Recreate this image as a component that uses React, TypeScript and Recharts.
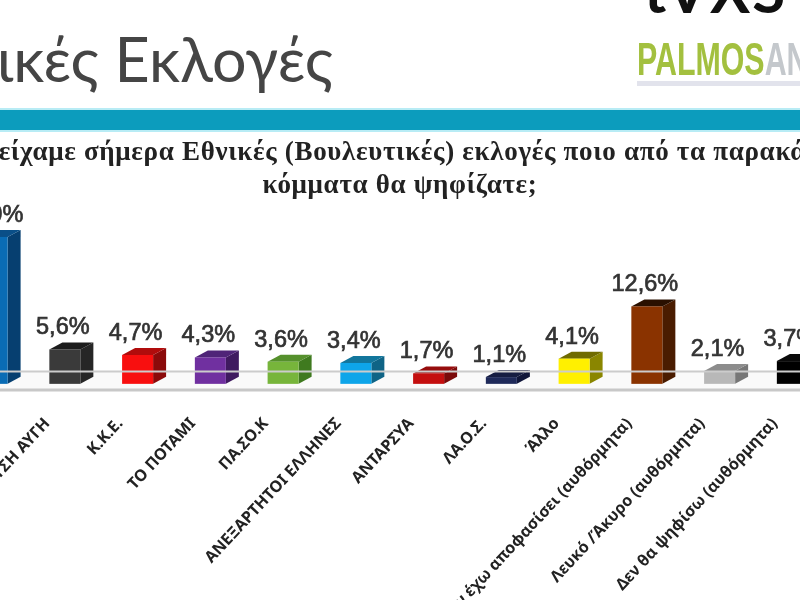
import { BarChart, Bar, XAxis, YAxis, LabelList, ReferenceArea, ReferenceLine } from 'recharts';

const parties = [
  'Ν.Δ.',
  'ΧΡΥΣΗ ΑΥΓΗ',
  'Κ.Κ.Ε.',
  'ΤΟ ΠΟΤΑΜΙ',
  'ΠΑ.ΣΟ.Κ',
  'ΑΝΕΞΑΡΤΗΤΟΙ ΕΛΛΗΝΕΣ',
  'ΑΝΤΑΡΣΥΑ',
  'ΛΑ.Ο.Σ.',
  'Άλλο',
  'Δεν έχω αποφασίσει (αυθόρμητα)',
  'Λευκό /Άκυρο (αυθόρμητα)',
  'Δεν θα ψηφίσω (αυθόρμητα)',
];
const shares = [23.9, 5.6, 4.7, 4.3, 3.6, 3.4, 1.7, 1.1, 4.1, 12.6, 2.1, 3.7];
const frontColors = ['#0a6cb5', '#3a3a3a', '#f80f0f', '#7030a0', '#77b53b', '#0ea5e9', '#c40f0f', '#1f2a5a', '#fff000', '#8a3300', '#b8b8b8', '#000000'];
const sideColors = ['#063f70', '#262626', '#8b0a0a', '#3f1a60', '#3f7a1f', '#0f6486', '#7a0a0a', '#10163a', '#8a8600', '#4a1c00', '#777777', '#111111'];
const topColors = ['#0a4f88', '#1c1c1c', '#b00c0c', '#4f2478', '#55902c', '#12769c', '#960c0c', '#161d42', '#6f6b00', '#2a1000', '#8c8c8c', '#0a0a0a'];

const data = parties.map((name, i) => ({ name, value: shares[i] }));

// fake 3D column: front face + side + top
function Column3D({ x, y, width, height, index }: any) {
  const dx = 13;
  const dy = 7;
  return (
    <g>
      <path d={`M${x + width},${y} l${dx},${-dy} v${height} l${-dx},${dy} z`} fill={sideColors[index]} />
      <path d={`M${x},${y} l${dx},${-dy} h${width} l${-dx},${dy} z`} fill={topColors[index]} />
      <rect x={x} y={y} width={width} height={height} fill={frontColors[index]} />
    </g>
  );
}

function ValueLabel({ x, y, width, value }: any) {
  return (
    <text
      x={x + width / 2 - 2}
      y={y - 15}
      textAnchor="middle"
      fontFamily="Liberation Sans"
      fontSize={23.5}
      fill="#333333"
      stroke="#333333"
      strokeWidth={0.7}
    >
      {String(value).replace('.', ',')}%
    </text>
  );
}

function PartyTick({ x, payload }: any) {
  return (
    <text
      transform={`translate(${x - 14},424) rotate(-47)`}
      textAnchor="end"
      fontFamily="Noto Sans"
      fontWeight={700}
      fontSize={16}
      fill="#222222"
    >
      {payload.value}
    </text>
  );
}

export default function App() {
  return (
    <div style={{ position: 'absolute', left: 0, top: 0, width: 800, height: 600, overflow: 'hidden', background: '#fff', filter: 'blur(0.6px)' }}>
      <div style={{ position: 'absolute', right: 467, top: 22, whiteSpace: 'nowrap', fontFamily: 'Lato', fontSize: 61, color: '#454545' }}>
        Εθνικές Εκλογές
      </div>
      <div style={{ position: 'absolute', left: 644, top: -46, fontFamily: 'Lato', fontWeight: 700, fontSize: 60, color: '#111', letterSpacing: 2 }}>tVXS</div>
      <div style={{ position: 'absolute', left: 637, top: 32, fontFamily: 'Liberation Sans', fontWeight: 700, fontSize: 46, color: '#a3c03f', whiteSpace: 'nowrap', transform: 'scaleX(0.66)', transformOrigin: 'left' }}>
        PALMOS<span style={{ color: '#c4c8cc' }}>ANALYSIS</span>
      </div>
      <div style={{ position: 'absolute', left: 637, top: 81, width: 163, height: 5, background: '#e2e3ec' }} />
      <div style={{ position: 'absolute', left: 0, top: 108, width: 800, height: 24, boxSizing: 'border-box', background: '#0c9cbd', borderTop: '2px solid #b8ecf5', borderBottom: '2px solid #b8ecf5' }} />
      <div style={{ position: 'absolute', left: -100, width: 1000, top: 135, textAlign: 'center', fontFamily: 'Liberation Serif', fontWeight: 700, fontSize: 27, lineHeight: '33px', color: '#222', letterSpacing: 0.7, whiteSpace: 'nowrap' }}>
        Αν είχαμε σήμερα Εθνικές (Βουλευτικές) εκλογές ποιο από τα παρακάτω
        <br />
        κόμματα θα ψηφίζατε;
      </div>
      <div style={{ position: 'absolute', left: -60, top: 0 }}>
        <BarChart width={1000} height={600} data={data} margin={{ top: 138, right: 111.4, bottom: 20, left: 15.6 }}>
          <XAxis
            dataKey="name"
            interval={0}
            height={190}
            tickLine={false}
            axisLine={{ stroke: '#c8c8c8', strokeWidth: 3 }}
            tick={<PartyTick />}
          />
          <YAxis hide domain={[-1, 40]} />
          <ReferenceArea y1={-1} y2={2} fill="#fafafa" fillOpacity={1} stroke="none" />
          <ReferenceLine y={2} stroke="#cccccc" strokeWidth={2} />
          <Bar dataKey="value" barSize={31} shape={<Column3D />} isAnimationActive={false}>
            <LabelList dataKey="value" content={<ValueLabel />} />
          </Bar>
        </BarChart>
      </div>
    </div>
  );
}
